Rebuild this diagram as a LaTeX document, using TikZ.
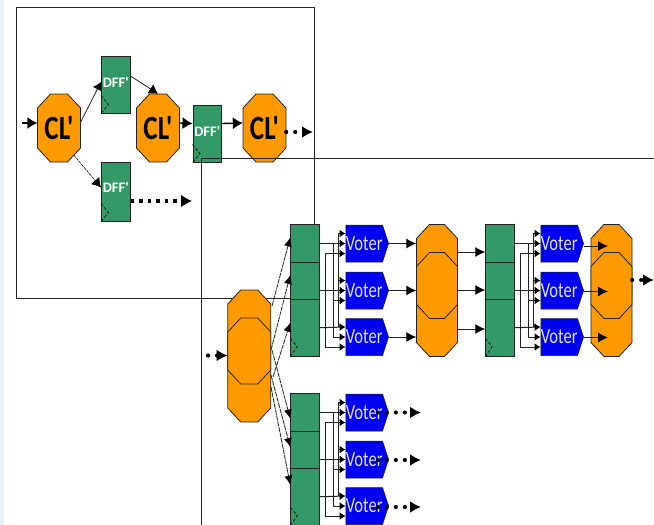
\documentclass[tikz,border=0pt]{standalone}
\usepackage{fontspec}
\newfontfamily\carl{Carlito}
\usetikzlibrary{arrows.meta,calc,shapes.symbols}
\definecolor{clo}{HTML}{FF9900}
\definecolor{regg}{HTML}{339966}
\definecolor{volt}{HTML}{0000F0}
\definecolor{ink}{HTML}{222222}
\definecolor{strip}{HTML}{EAF1FC}
\tikzset{
  frameline/.style={draw=ink,line width=1pt},
  octaline/.style={draw=ink,fill=clo,line width=0.8pt,line join=miter},
  cltext/.style={inner sep=0pt,font=\carl\bfseries\fontsize{30}{30}\selectfont},
  reg/.style={rectangle,draw=ink,fill=regg,line width=1pt,inner sep=0pt,minimum width=28.5pt,
    text=white,font=\carl\bfseries\fontsize{14.5}{15}\selectfont},
  voterbox/.style={signal,signal to=east,signal pointer angle=144,draw=ink,fill=volt,line width=0.5pt,inner sep=0pt,
    minimum width=39pt,minimum height=37pt,text=blue!12!white,font=\carl\fontsize{18}{18}\selectfont,anchor=west},
  clock/.style={draw=black,line width=0.7pt,densely dashed},
  wire/.style={draw=ink,line width=1pt},
  inwire/.style={wire,-{Latex[length=6pt,width=8pt,color=black]}},
  bigarrow/.style={draw=black,line width=1.4pt,-{Latex[length=10pt,width=12pt]}},
  midarrow/.style={draw=ink,line width=1pt,-{Latex[length=10pt,width=10pt,color=black]}},
  fan/.style={draw=ink,line width=0.8pt,dash pattern=on 5pt off 0.8pt,-{Latex[length=9pt,width=8pt,color=black]}},
  dots/.style={draw=black,line width=4.2pt,line cap=round,dash pattern=on 0pt off 9pt,-{Latex[length=11pt,width=12pt]}},
  sqdots/.style={draw=black,line width=4.2pt,dash pattern=on 3.5pt off 5pt,-{Latex[length=11pt,width=13pt]}}
}
% octagon: name, centre x, centre y, width, height, text
\newcommand{\octbox}[6]{%
  \draw[octaline] ({#2-#4/2+13},{#3-#5/2}) -- ({#2+#4/2-13},{#3-#5/2}) -- ({#2+#4/2},{#3-#5/2+14})
    -- ({#2+#4/2},{#3+#5/2-14}) -- ({#2+#4/2-13},{#3+#5/2}) -- ({#2-#4/2+13},{#3+#5/2})
    -- ({#2-#4/2},{#3+#5/2-14}) -- ({#2-#4/2},{#3-#5/2+14}) -- cycle;
  \node[cltext,minimum width=#4 pt,minimum height=#5 pt] (#1) at (#2,#3) {#6};
}
% one register column and its three voters
\newcommand{\bank}[3]{%
  \begin{scope}[shift={(#2,#3)}]
    \node[reg,minimum height=37.5pt] (#1r1) at (305,243.5) {};
    \node[reg,minimum height=37.5pt] (#1r2) at (305,281) {};
    \node[reg,minimum height=56.5pt] (#1r3) at (305,327.75) {};
    \draw[clock] ([yshift=18pt]#1r3.south west) -- ([xshift=7pt,yshift=10pt]#1r3.south west) -- (#1r3.south west);
    \node[voterbox] (#1v1) at (345.5,243.5) {\scalebox{0.92}[1.2]{Voter}};
    \node[voterbox] (#1v2) at (345.5,290.5) {\scalebox{0.92}[1.2]{Voter}};
    \node[voterbox] (#1v3) at (345.5,337) {\scalebox{0.92}[1.2]{Voter}};
    \coordinate (#1o2) at (319,290.5);
    \coordinate (#1a) at (325,0);
    \coordinate (#1b) at (333,0);
    \coordinate (#1c) at (338,0);
  \end{scope}
  \foreach \v in {1,2,3}{
    \coordinate (#1i\v1) at ($(#1v\v.west)+(0,-10)$);
    \coordinate (#1i\v2) at (#1v\v.west);
    \coordinate (#1i\v3) at ($(#1v\v.west)+(0,10)$);
  }
  \draw[inwire] (#1r1.east) -- (#1i12);
  \draw[inwire] (#1o2) -- (#1i22);
  \draw[inwire] (#1r3.east) -- (#1i31);
  \draw[wire] (#1a |- #1i13) -- (#1a |- #1i33);
  \draw[inwire] (#1a |- #1i13) -- (#1i13);
  \draw[inwire] (#1a |- #1i33) -- (#1i33);
  \draw[wire] (#1b |- #1i12) -- (#1b |- #1i32);
  \draw[inwire] (#1b |- #1i23) -- (#1i23);
  \draw[inwire] (#1b |- #1i32) -- (#1i32);
  \draw[wire] (#1c |- #1i11) -- (#1c |- #1i31);
  \draw[inwire] (#1c |- #1i11) -- (#1i11);
  \draw[inwire] (#1c |- #1i21) -- (#1i21);
}
% a tall block of three overlapped octagons: prefix, x, y of the middle one, width
\newcommand{\tallcl}[4]{%
  \octbox{#1t}{#2}{#3-21}{#4}{80}{}
  \octbox{#1b}{#2}{#3+31}{#4}{80}{}
  \octbox{#1m}{#2}{#3}{#4}{66}{}
}
\newcommand{\clt}{\scalebox{0.9}[1.13]{CL'}}
\begin{document}
\begin{tikzpicture}[x=1pt,y=-1pt]
  \useasboundingbox (0,0) rectangle (654,525);
  \clip (0,0) rectangle (654,525);
  \fill[white] (0,0) rectangle (654,525);
  \fill[strip] (0,0) rectangle (4,525);
  % first frame
  \node[frameline,rectangle,inner sep=0pt,minimum width=298pt,minimum height=291pt] (frameA) at (165,152.5) {};

  % upper circuit
  \octbox{c1}{59}{128}{43}{68}{\clt}
  \octbox{c2}{158}{128}{43}{68}{\clt}
  \octbox{c3}{264.5}{128}{43}{68}{\clt}
  \node[reg,minimum height=57pt] (d1) at (115.75,84.5) {\raisebox{3pt}{DFF'}};
  \node[reg,minimum height=59pt] (d2) at (115.75,191.5) {\raisebox{7pt}{DFF'}};
  \node[reg,minimum height=57pt] (d3) at (207.25,133.5) {\raisebox{3pt}{DFF'}};
  \foreach \d in {d1,d2,d3}{
    \draw[clock] ([yshift=18pt]\d.south west) -- ([xshift=7.5pt,yshift=9pt]\d.south west) -- (\d.south west);
  }
  \coordinate (inA) at (22,123);
  \coordinate (outA) at (313,132);
  \coordinate (outB) at (192,201);
  \draw[bigarrow] (inA) -- (c1.west |- inA);
  \draw[draw=ink,line width=0.8pt,-{Latex[length=8pt,width=10pt,color=black]}] ([yshift=6pt]c1.east) -- ([yshift=2.5pt]d1.west);
  \draw[draw=ink,line width=0.7pt,dash pattern=on 3pt off 1pt,-{Latex[length=9pt,width=11pt,color=black]}] ([xshift=-7pt,yshift=-27pt]c1.east) -- ([yshift=4pt]d2.west);
  \draw[draw=ink,line width=0.8pt,-{Latex[length=9pt,width=11pt,color=black]}] ([yshift=8.5pt]d1.east) -- (c2.north);
  \draw[bigarrow] ([yshift=5pt]c2.east) -- ([yshift=10pt]d3.west);
  \draw[bigarrow] ([yshift=10pt]d3.east) -- ([yshift=5pt]c3.west);
  \draw[dots] (c3.east |- outA) -- (outA);
  \draw[sqdots] (d2.east |- outB) -- (outB);

  % lower circuit
  \bank{p}{0}{0}
  \bank{q}{195}{0}
  \bank{s}{0}{169}
  \tallcl{k}{249.25}{351}{43}
  \tallcl{m}{437}{285.5}{41}
  \tallcl{n}{611.5}{285.5}{41}

  % second frame
  \coordinate (fr1) at (654,158);
  \coordinate (fr2) at (201,158);
  \coordinate (fr3) at (201,525);
  \draw[frameline] (fr1) -- (fr2) -- (fr3);

  % fan-out of the large block
  \coordinate (f1) at (272,306);
  \coordinate (f2) at (271,350);
  \coordinate (f3) at (273,377);
  \coordinate (f4) at (272,350);
  \coordinate (f5) at (271,375);
  \coordinate (f6) at (271,387);
  \draw[fan] (f1) -- ([yshift=6pt]pr1.west);
  \draw[fan] (f2) -- ([yshift=6pt]pr2.west);
  \draw[fan] (f3) -- ([yshift=5pt]pr3.west);
  \draw[fan] (f4) -- ([yshift=-6pt]sr1.west);
  \draw[fan] (f5) -- ([yshift=3pt]sr2.west);
  \draw[fan] (f6) -- ([yshift=12pt]sr3.west);
  \coordinate (inK) at (208,355.5);
  \draw[dots] (inK) -- (kt.west |- inK);

  % voters to blocks, blocks to registers
  \draw[midarrow] (pv1.east) -- (mm.west |- pv1.east);
  \draw[midarrow] (pv2.east) -- (mm.west |- pv2.east);
  \draw[midarrow] (pv3.east) -- (mm.west |- pv3.east);
  \draw[midarrow] (mm.east |- 0,252) -- (qr1.west |- 0,252);
  \draw[midarrow] (mm.east |- 0,290) -- (qr1.west |- 0,290);
  \draw[midarrow] (mm.east |- 0,329) -- (qr1.west |- 0,329);
  \coordinate (t1) at (608,246);
  \coordinate (t2) at (608,291.5);
  \coordinate (t3) at (608,337.5);
  \draw[midarrow] (qv1.east |- t1) -- (t1);
  \draw[midarrow] (qv2.east |- t2) -- (t2);
  \draw[midarrow] (qv3.east |- t3) -- (t3);
  \coordinate (outN) at (654,280);
  \draw[dots] (nm.east |- outN) -- (outN);
  \coordinate (e1) at (421,412.5);
  \coordinate (e2) at (421,460);
  \coordinate (e3) at (421,507);
  \draw[dots] ([xshift=-11pt]sv1.east |- e1) -- (e1);
  \draw[dots] ([xshift=-11pt]sv2.east |- e2) -- (e2);
  \draw[dots] ([xshift=-11pt]sv3.east |- e3) -- (e3);
\end{tikzpicture}
\end{document}
